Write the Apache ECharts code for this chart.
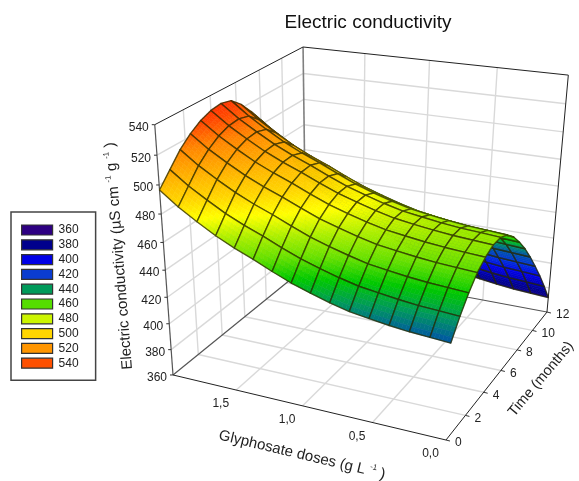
<!DOCTYPE html>
<html><head><meta charset="utf-8">
<style>html,body{margin:0;padding:0;background:#fff}#c{width:579px;height:481px}</style>
<script src="https://cdn.jsdelivr.net/npm/echarts@6/dist/echarts.min.js"></script>
</head><body><div id="c"></div>
<script>
// ---- data ----
const doseNodes=[0,0.1333,0.2667,0.4,0.5333,0.6667,0.8,0.9333,1.0667,1.2,1.3333,1.4667,1.6,1.7333,1.8667,2];
const timeNodes=[0,0.8,1.6,2.4,3.2,4,4.8,5.6,6.4,7.2,8,8.8,9.6,10.4,11.2,12];
const ecT00=[429,430,431,432.5,434.5,436.6,440,444,448.5,454,460,465.4,471.6,479,487,496.6];
const ecT01=[441,442,442.9,444.4,446.3,448.3,451.6,455.4,459.7,465,470.8,475.9,481.9,489,496.7,505.9];
const ecT02=[451,452,452.9,454.3,456.2,458.2,461.5,465.3,469.5,474.8,480.5,485.6,491.5,498.5,506.1,515.2];
const ecT03=[459,459.9,460.9,462.3,464.1,466.1,469.2,473,477.1,482.3,487.8,492.9,498.6,505.5,512.9,521.9];
const ecT04=[464,464.9,465.9,467.3,469.1,471.1,474.2,478,482.1,487.3,492.8,497.9,503.6,510.5,517.9,526.9];
const ecT05=[467,467.9,468.9,470.3,472.1,474.1,477.2,481,485.1,490.3,495.8,500.9,506.6,513.5,520.9,529.9];
const ecT06=[467,468,468.9,470.3,472.2,474.2,477.4,481.2,485.4,490.6,496.3,501.4,507.3,514.3,521.8,530.9];
const ecT07=[463.5,464.5,465.4,466.9,468.8,470.9,474.2,478,482.4,487.8,493.6,498.8,504.8,512,519.8,529.1];
const ecT08=[457,458,458.9,460.4,462.3,464.4,467.7,471.6,475.9,481.3,487.1,492.3,498.3,505.5,513.3,522.6];
const ecT09=[448,449,449.9,451.4,453.3,455.4,458.7,462.6,466.9,472.3,478.1,483.3,489.3,496.5,504.3,513.6];
const ecT10=[438,439,439.9,441.4,443.3,445.4,448.7,452.6,456.9,462.3,468.1,473.3,479.3,486.5,494.3,503.6];
const ecT11=[426.5,427.5,428.4,429.9,431.8,433.9,437.2,441.1,445.4,450.8,456.6,461.8,467.8,475,482.8,492.1];
const ecT12=[414,415,415.9,417.4,419.3,421.4,424.7,428.6,432.9,438.3,444.1,449.3,455.3,462.5,470.3,479.6];
const ecT13=[401,402,402.9,404.4,406.3,408.4,411.7,415.6,419.9,425.3,431.1,436.3,442.3,449.5,457.3,466.6];
const ecT14=[387,388,388.9,390.4,392.3,394.4,397.7,401.6,405.9,411.3,417.1,422.3,428.3,435.5,443.3,452.6];
const ecT15=[372,373,373.9,375.4,377.3,379.4,382.7,386.6,390.9,396.3,402.1,407.3,413.3,420.5,428.3,437.6];
const ecRows=[ecT00,ecT01,ecT02,ecT03,ecT04,ecT05,ecT06,ecT07,ecT08,ecT09,ecT10,ecT11,ecT12,ecT13,ecT14,ecT15];
const zTicks=[360,380,400,420,440,460,480,500,520,540];
const timeTicks=[0,2,4,6,8,10,12];
const doseTicks=[0,0.5,1,1.5,2];
const doseTickLabels=['0,0','0,5','1,0','1,5'];
const legendValues=['360','380','400','420','440','460','480','500','520','540'];
const legendColors=['#2e0082','#00008c','#0000e6','#0a3cd0','#009a5a','#55dd00','#ccf500','#ffd500','#ff9500','#ff5000'];
const surfaceStopValues=[360,380,400,415,430,440,450,460,470,480,490,497,515,525,533];
const surfaceStopColors=['#2e0082','#00008c','#0000e6','#0033d8','#005aa0','#009a5a','#00c800','#66e000','#aaee00','#ffff00','#ffd400','#ffc000','#ff8500','#ff4a00','#ff2800'];
const chartTitle='Electric conductivity';
const zTitle='Electric conductivity (µS cm {s|-1} g {s|-1} )';
const doseTitle='Glyphosate doses (g L {s|-1} )';
const timeTitle='Time (months)';

// ---- 3D perspective scale of the box ----
const zMin=360,zMax=540,tMax=12,dMax=2;
const nm=echarts.number.linearMap;
function project(d,t,z){
  const u=1-t/tMax,v=1-d/dMax,w=nm(z,[zMin,zMax],[0,1]);
  const W=1-0.1474*u-0.0815*v-0.085*w;
  return [(306-158.5*u+196.4*v-28.7*w)/W,(267+52.7*u+19.6*v-224*w)/W];
}
function surfaceColor(z){
  const s=surfaceStopValues;
  if(z<=s[0])return surfaceStopColors[0];
  for(let i=1;i<s.length;i++){
    if(z<=s[i])return echarts.color.lerp((z-s[i-1])/(s[i]-s[i-1]),[surfaceStopColors[i-1],surfaceStopColors[i]]);
  }
  return surfaceStopColors[s.length-1];
}
// ---- box frame ----
const GRID={c:'#d9d9d9',w:1.4},DARK={c:'#222',w:1},GREY={c:'#808080',w:1.6},MID={c:'#555',w:1.2};
const frame=[];
function seg(a,b,st){frame.push({a,b,st});}
zTicks.slice(1,-1).forEach(z=>{seg([dMax,0,z],[dMax,tMax,z],GRID);seg([dMax,tMax,z],[0,tMax,z],GRID);});
timeTicks.slice(1,-1).forEach(t=>{seg([dMax,t,zMin],[dMax,t,zMax],GRID);seg([dMax,t,zMin],[0,t,zMin],GRID);});
doseTicks.slice(1,-1).forEach(d=>{seg([d,tMax,zMin],[d,tMax,zMax],GRID);seg([d,0,zMin],[d,tMax,zMin],GRID);});
seg([dMax,tMax,zMin],[dMax,tMax,zMax],GREY);
seg([dMax,0,zMin],[dMax,tMax,zMin],MID);
seg([dMax,tMax,zMin],[0,tMax,zMin],MID);
seg([dMax,0,zMin],[dMax,0,zMax],MID);
seg([dMax,0,zMax],[dMax,tMax,zMax],DARK);
seg([dMax,tMax,zMax],[0,tMax,zMax],DARK);
seg([0,tMax,zMin],[0,tMax,zMax],DARK);
seg([dMax,0,zMin],[0,0,zMin],DARK);
seg([0,0,zMin],[0,tMax,zMin],DARK);

const SUB=5;
function surfaceCell(params,api){
  const i=api.value(0),j=api.value(1);
  const t0=timeNodes[i],t1=timeNodes[i+1],d0=doseNodes[j],d1=doseNodes[j+1];
  const z00=api.value(2),z01=api.value(3),z10=api.value(4),z11=api.value(5);
  const ch=[];
  const at=(a,b)=>{
    const z=(1-a)*(1-b)*z00+(1-a)*b*z01+a*(1-b)*z10+a*b*z11;
    return {p:project(d0+(d1-d0)*b,t0+(t1-t0)*a,z),z};
  };
  for(let a=SUB-1;a>=0;a--)for(let b=SUB-1;b>=0;b--){
    const A=at(a/SUB,b/SUB),B=at((a+1)/SUB,b/SUB),C=at((a+1)/SUB,(b+1)/SUB),D=at(a/SUB,(b+1)/SUB);
    const col=surfaceColor((A.z+B.z+C.z+D.z)/4);
    ch.push({type:'polygon',silent:true,shape:{points:[A.p,B.p,C.p,D.p]},style:{fill:col,stroke:col,lineWidth:0.6}});
  }
  ch.push({type:'polygon',silent:true,shape:{points:[at(0,0).p,at(1,0).p,at(1,1).p,at(0,1).p]},
    style:{fill:null,stroke:'rgba(40,40,0,0.75)',lineWidth:1.4,lineJoin:'round'}});
  return {type:'group',children:ch};
}
const cells=[];
for(let i=timeNodes.length-2;i>=0;i--)for(let j=doseNodes.length-2;j>=0;j--){
  cells.push([i,j,ecRows[i][j],ecRows[i][j+1],ecRows[i+1][j],ecRows[i+1][j+1]]);
}
const TXT='#222',FONT='"Liberation Sans",Arial,sans-serif';
function label(x,y,text,align,size){
  return {type:'text',silent:true,x,y,style:{text,fill:TXT,font:size+'px '+FONT,align,verticalAlign:'middle'}};
}
function rotated(x,y,deg,text,size){
  return {type:'group',x,y,rotation:deg*Math.PI/180,children:[{type:'text',silent:true,style:{
    text,fill:TXT,font:size+'px '+FONT,fontSize:size,fontFamily:FONT,align:'center',verticalAlign:'middle',
    rich:{s:{fontSize:8,fontFamily:FONT,fill:TXT,verticalAlign:'top',lineHeight:size+2}}}}]};
}
function renderFrame(params,api){
  const s=frame[api.value(0)],p=project(...s.a),q=project(...s.b);
  return {type:'line',silent:true,shape:{x1:p[0],y1:p[1],x2:q[0],y2:q[1]},style:{stroke:s.st.c,lineWidth:s.st.w}};
}
function renderAxes(){
  const ch=[];
  zTicks.forEach(z=>{const p=project(dMax,0,z);
    ch.push({type:'line',silent:true,shape:{x1:p[0]-3,y1:p[1],x2:p[0],y2:p[1]},style:{stroke:'#333',lineWidth:1}});
    ch.push(label(p[0]-6,p[1]+3,String(z),'right',12));});
  timeTicks.forEach(t=>{const p=project(0,t,zMin);
    ch.push({type:'line',silent:true,shape:{x1:p[0],y1:p[1],x2:p[0]+4,y2:p[1]+1},style:{stroke:'#333',lineWidth:1}});
    ch.push(label(p[0]+9,p[1]+3,String(t),'left',12));});
  doseTicks.slice(0,-1).forEach((d,k)=>{const p=project(d,0,zMin);
    ch.push(label(p[0]-15.5,p[1]+14,doseTickLabels[k],'center',12));});
  ch.push(rotated(119,256,94.5,zTitle,15));
  ch.push(rotated(302,455,-13.4,doseTitle,15));
  ch.push(rotated(541,379,50,timeTitle,14.5));
  return {type:'group',children:ch};
}
const legendSeries=legendValues.map((n,k)=>({type:'custom',name:n,coordinateSystem:'none',silent:true,
  itemStyle:{color:legendColors[k]},data:[],renderItem:()=>null}));
const option={
  animation:false,backgroundColor:'#fff',
  title:{text:chartTitle,left:363,top:8,textAlign:'center',textStyle:{fontFamily:FONT,fontSize:19,fontWeight:'normal',color:'#111'}},
  legend:{orient:'vertical',left:11,top:212,padding:[12,17,11,10],itemWidth:31,itemHeight:10,itemGap:2.8,selectedMode:false,
    borderColor:'#444',borderWidth:1.5,backgroundColor:'#fff',icon:'rect',
    itemStyle:{borderColor:'#333',borderWidth:1.2},
    textStyle:{fontFamily:FONT,fontSize:12,color:TXT,padding:[0,0,0,1]},
    data:legendValues.map(n=>({name:n}))},
  series:[
    {type:'custom',name:'frame',coordinateSystem:'none',silent:true,z:1,data:frame.map((s,i)=>[i]),renderItem:renderFrame},
    {type:'custom',name:'Electric conductivity',coordinateSystem:'none',silent:true,z:2,data:cells,renderItem:surfaceCell},
    {type:'custom',name:'axes',coordinateSystem:'none',silent:true,z:3,data:[[0]],renderItem:renderAxes}
  ].concat(legendSeries)
};
echarts.init(document.getElementById('c'),null,{renderer:'canvas'}).setOption(option);
</script></body></html>
